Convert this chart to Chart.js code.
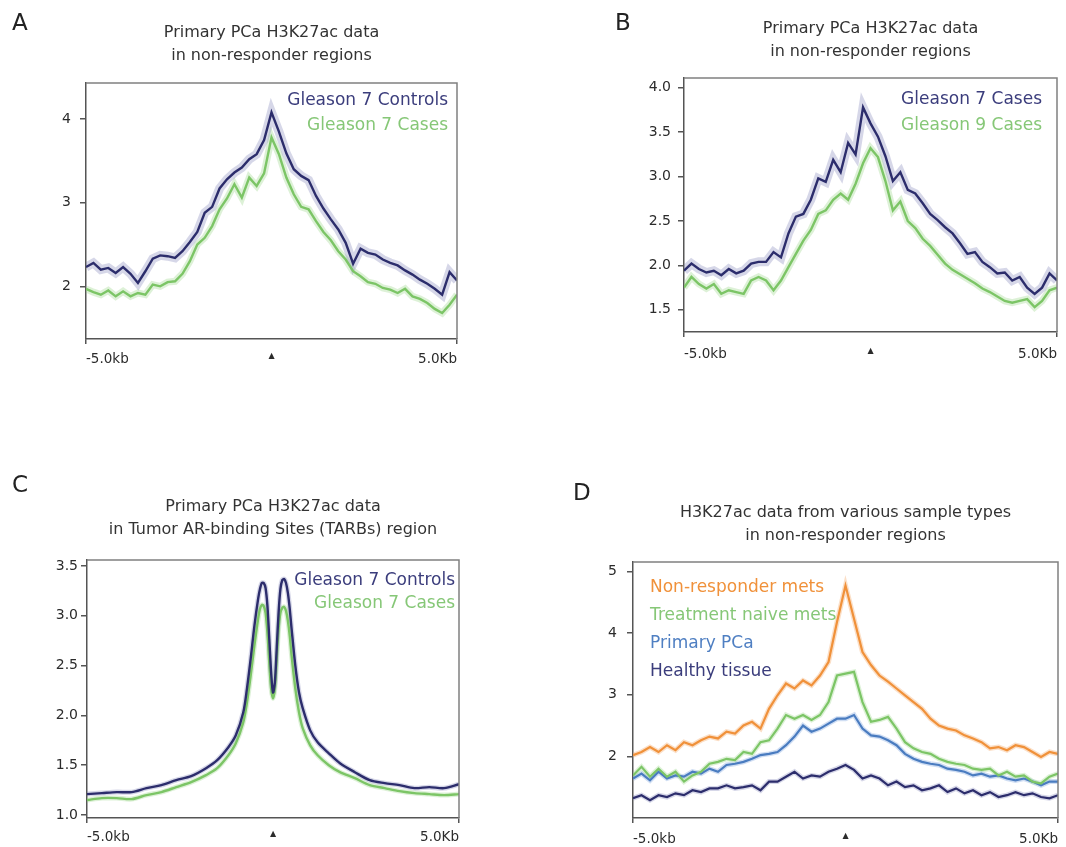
<!DOCTYPE html>
<html>
<head>
<meta charset="utf-8">
<title>Profils H3K27ac</title>
<script src="https://cdn.jsdelivr.net/npm/chart.js@4.4.0/dist/chart.umd.min.js"></script>
<style>
    html, body { margin: 0; padding: 0; background: #fff; }
    #figure { position: relative; width: 1066px; height: 847px; }
    .panel { position: absolute; }
</style>
</head>
<body>
<div id="figure">
    <div class="panel" style="left:0;top:0"><canvas id="chart-a" width="533" height="420"></canvas></div>
    <div class="panel" style="left:533px;top:0"><canvas id="chart-b" width="533" height="420"></canvas></div>
    <div class="panel" style="left:0;top:440px"><canvas id="chart-c" width="533" height="407"></canvas></div>
    <div class="panel" style="left:533px;top:440px"><canvas id="chart-d" width="533" height="407"></canvas></div>
</div>
<script>
// Profils H3K27ac autour des régions (fenêtre -5 kb / +5 kb)

// Positions des bins (kb) pour les panneaux A, B et D
const binsKb = [-5.0, -4.8, -4.6, -4.4, -4.2, -4.0, -3.8, -3.6, -3.4, -3.2,
    -3.0, -2.8, -2.6, -2.4, -2.2, -2.0, -1.8, -1.6, -1.4, -1.2,
    -1.0, -0.8, -0.6, -0.4, -0.2, 0.0, 0.2, 0.4, 0.6, 0.8,
    1.0, 1.2, 1.4, 1.6, 1.8, 2.0, 2.2, 2.4, 2.6, 2.8,
    3.0, 3.2, 3.4, 3.6, 3.8, 4.0, 4.2, 4.4, 4.6, 4.8, 5.0];

// Positions des bins (kb) pour le panneau C, plus fines autour du centre
const binsKbC = [-5.0, -4.6, -4.2, -3.8, -3.4, -3.0, -2.6, -2.2, -1.8, -1.5,
    -1.2, -1.0, -0.8, -0.7, -0.6, -0.5, -0.4, -0.35, -0.3, -0.25,
    -0.2, -0.15, -0.1, -0.05, 0.0, 0.05, 0.1, 0.15, 0.2, 0.25,
    0.3, 0.35, 0.4, 0.45, 0.5, 0.6, 0.7, 0.8, 1.0, 1.2,
    1.5, 1.8, 2.2, 2.6, 3.0, 3.4, 3.8, 4.2, 4.6, 5.0];

// Graduations
const xTickValues = [-5, 0, 5];
const xTickLabels = ['-5.0kb', '\u25B2', '5.0Kb'];
const yTicksA = [2, 3, 4];
const yTicksB = [1.5, 2.0, 2.5, 3.0, 3.5, 4.0];
const yTicksC = [1.0, 1.5, 2.0, 2.5, 3.0, 3.5];
const yTicksD = [2, 3, 4, 5];

// Titres
const titleA = ['Primary PCa H3K27ac data', 'in non-responder regions'];
const titleB = ['Primary PCa H3K27ac data', 'in non-responder regions'];
const titleC = ['Primary PCa H3K27ac data', 'in Tumor AR-binding Sites (TARBs) region'];
const titleD = ['H3K27ac data from various sample types', 'in non-responder regions'];

// Panneau A
const gleason7ControlsA = [2.23, 2.28, 2.20, 2.22, 2.16, 2.23, 2.15, 2.04, 2.18, 2.33,
    2.37, 2.36, 2.34, 2.42, 2.53, 2.65, 2.88, 2.95, 3.17, 3.28,
    3.36, 3.42, 3.52, 3.58, 3.75, 4.08, 3.85, 3.59, 3.40, 3.32,
    3.27, 3.08, 2.93, 2.80, 2.68, 2.52, 2.27, 2.45, 2.40, 2.38,
    2.32, 2.28, 2.25, 2.19, 2.14, 2.08, 2.03, 1.97, 1.90, 2.17, 2.07];
const gleason7CasesA = [1.97, 1.93, 1.90, 1.95, 1.88, 1.94, 1.88, 1.92, 1.90, 2.02,
    2.00, 2.05, 2.06, 2.15, 2.30, 2.50, 2.58, 2.72, 2.92, 3.05,
    3.22, 3.06, 3.30, 3.20, 3.35, 3.78, 3.58, 3.30, 3.10, 2.95,
    2.92, 2.78, 2.65, 2.55, 2.42, 2.32, 2.18, 2.12, 2.05, 2.03,
    1.98, 1.96, 1.92, 1.97, 1.88, 1.85, 1.80, 1.73, 1.68, 1.78, 1.90];

// Panneau B
const gleason7CasesB = [1.94, 2.02, 1.96, 1.92, 1.94, 1.89, 1.96, 1.91, 1.94, 2.02,
    2.04, 2.04, 2.15, 2.09, 2.36, 2.55, 2.58, 2.74, 2.98, 2.94,
    3.19, 3.05, 3.38, 3.25, 3.78, 3.60, 3.45, 3.23, 2.95, 3.05,
    2.85, 2.81, 2.70, 2.58, 2.51, 2.43, 2.36, 2.25, 2.13, 2.15,
    2.04, 1.98, 1.91, 1.92, 1.83, 1.87, 1.75, 1.68, 1.75, 1.91, 1.83];
const gleason9CasesB = [1.75, 1.87, 1.79, 1.74, 1.79, 1.68, 1.72, 1.70, 1.68, 1.83,
    1.87, 1.83, 1.72, 1.83, 1.98, 2.13, 2.28, 2.40, 2.58, 2.62,
    2.74, 2.81, 2.74, 2.92, 3.15, 3.32, 3.22, 2.95, 2.62, 2.72,
    2.50, 2.42, 2.30, 2.22, 2.12, 2.02, 1.95, 1.90, 1.85, 1.80,
    1.74, 1.70, 1.65, 1.60, 1.58, 1.60, 1.62, 1.53, 1.60, 1.72, 1.75];

// Panneau C
const gleason7ControlsC = [1.21, 1.22, 1.23, 1.23, 1.27, 1.30, 1.35, 1.39, 1.47, 1.55,
    1.68, 1.80, 2.03, 2.27, 2.57, 2.90, 3.17, 3.27, 3.33, 3.33,
    3.28, 3.10, 2.77, 2.43, 2.23, 2.33, 2.67, 3.03, 3.27, 3.36,
    3.37, 3.33, 3.23, 3.07, 2.87, 2.50, 2.23, 2.07, 1.85, 1.73,
    1.62, 1.52, 1.43, 1.35, 1.32, 1.30, 1.27, 1.28, 1.27, 1.31];
const gleason7CasesC = [1.15, 1.17, 1.17, 1.16, 1.20, 1.23, 1.28, 1.33, 1.40, 1.47,
    1.60, 1.72, 1.93, 2.13, 2.40, 2.70, 2.97, 3.07, 3.11, 3.10,
    3.03, 2.83, 2.53, 2.27, 2.17, 2.27, 2.57, 2.87, 3.03, 3.08,
    3.09, 3.05, 2.95, 2.80, 2.60, 2.27, 2.03, 1.87, 1.70, 1.60,
    1.50, 1.43, 1.37, 1.30, 1.27, 1.24, 1.22, 1.21, 1.20, 1.21];

// Panneau D
const nonResponderMetsD = [2.02, 2.07, 2.15, 2.07, 2.18, 2.10, 2.23, 2.18, 2.26, 2.32,
    2.29, 2.40, 2.37, 2.50, 2.56, 2.45, 2.77, 2.99, 3.18, 3.10,
    3.23, 3.15, 3.31, 3.53, 4.18, 4.77, 4.23, 3.69, 3.48, 3.31,
    3.21, 3.10, 2.99, 2.88, 2.77, 2.61, 2.50, 2.45, 2.42, 2.34,
    2.29, 2.23, 2.13, 2.15, 2.10, 2.18, 2.15, 2.07, 1.99, 2.07, 2.04];
const treatmentNaiveMetsD = [1.69, 1.83, 1.67, 1.80, 1.67, 1.75, 1.59, 1.69, 1.75, 1.88,
    1.91, 1.96, 1.94, 2.07, 2.04, 2.23, 2.26, 2.45, 2.67, 2.61,
    2.67, 2.59, 2.67, 2.88, 3.31, 3.34, 3.37, 2.88, 2.56, 2.59,
    2.64, 2.45, 2.23, 2.13, 2.07, 2.04, 1.96, 1.91, 1.88, 1.86,
    1.80, 1.78, 1.80, 1.69, 1.75, 1.67, 1.69, 1.59, 1.56, 1.67, 1.72];
const primaryPCaD = [1.64, 1.72, 1.61, 1.75, 1.64, 1.69, 1.67, 1.75, 1.72, 1.80,
    1.75, 1.86, 1.88, 1.91, 1.96, 2.02, 2.04, 2.07, 2.18, 2.32,
    2.50, 2.40, 2.45, 2.53, 2.61, 2.61, 2.67, 2.45, 2.34, 2.32,
    2.26, 2.18, 2.04, 1.96, 1.91, 1.88, 1.86, 1.80, 1.78, 1.75,
    1.69, 1.72, 1.67, 1.69, 1.64, 1.61, 1.64, 1.59, 1.53, 1.59, 1.59];
const healthyTissueD = [1.32, 1.37, 1.29, 1.37, 1.34, 1.40, 1.37, 1.45, 1.42, 1.48,
    1.48, 1.53, 1.48, 1.50, 1.53, 1.45, 1.59, 1.59, 1.67, 1.75,
    1.64, 1.69, 1.67, 1.75, 1.80, 1.86, 1.78, 1.64, 1.69, 1.64,
    1.53, 1.59, 1.50, 1.53, 1.45, 1.48, 1.53, 1.42, 1.48, 1.40,
    1.45, 1.37, 1.42, 1.34, 1.37, 1.42, 1.37, 1.40, 1.34, 1.32, 1.37];

// Couleurs
const COLORS = {
    navy: '#2c2d6c',
    navyText: '#3b3d7c',
    navyBand: 'rgba(120, 122, 180, 0.30)',
    green: '#7cc566',
    greenText: '#86c777',
    greenBand: 'rgba(150, 210, 130, 0.32)',
    orange: '#f0913a',
    orangeBand: 'rgba(245, 175, 115, 0.40)',
    blue: '#4a7cc0',
    blueText: '#4f7fc2',
    blueBand: 'rgba(120, 160, 220, 0.35)'
};

Chart.defaults.font.family = '"DejaVu Sans", "Liberation Sans", sans-serif';
Chart.defaults.color = '#2b2b2b';

/**
 * Dessine le cadre haut/droit, la lettre du panneau et la légende en texte coloré
 */
const panelDecorPlugin = {
    id: 'panelDecor',
    afterDraw(chart, args, opts) {
        const { ctx, chartArea } = chart;
        ctx.save();

        // Cadre haut et droit
        ctx.strokeStyle = '#808080';
        ctx.lineWidth = 1.5;
        ctx.beginPath();
        ctx.moveTo(chartArea.left, chartArea.top);
        ctx.lineTo(chartArea.right, chartArea.top);
        ctx.lineTo(chartArea.right, chartArea.bottom);
        ctx.stroke();

        // Lettre du panneau
        ctx.fillStyle = '#222';
        ctx.font = '23px "DejaVu Sans"';
        ctx.textAlign = 'left';
        ctx.textBaseline = 'alphabetic';
        ctx.fillText(opts.letter, opts.letterX, opts.letterY);

        // Légende
        ctx.font = '17px "DejaVu Sans"';
        ctx.textBaseline = 'middle';
        const items = chart.data.datasets.filter(d => d.showInLegend);
        items.forEach((d, i) => {
            const y = chartArea.top + opts.legendTop + i * opts.legendStep;
            ctx.fillStyle = d.legendColor;
            if (opts.legendAlign === 'right') {
                ctx.textAlign = 'right';
                ctx.fillText(d.label, chartArea.right - opts.legendInset, y);
            } else {
                ctx.textAlign = 'left';
                ctx.fillText(d.label, chartArea.left + opts.legendInset, y);
            }
        });
        ctx.restore();
    }
};

/**
 * Crée un graphique de profil
 */
function createProfileChart(canvasId, cfg) {
    const datasets = [];
    cfg.series.forEach(s => {
        datasets.push({
            label: s.label,
            data: cfg.bins.map((x, i) => ({ x: x, y: s.values[i] })),
            borderColor: s.color,
            borderWidth: cfg.lineWidth,
            pointRadius: 0,
            tension: cfg.tension,
            order: 0,
            showInLegend: true,
            legendColor: s.textColor
        });
    });
    // Bandes d'erreur (halo clair sous chaque courbe)
    cfg.series.forEach(s => {
        datasets.push({
            label: s.label + ' SEM',
            data: cfg.bins.map((x, i) => ({ x: x, y: s.values[i] })),
            borderColor: s.band,
            borderWidth: s.bandWidth,
            pointRadius: 0,
            tension: cfg.tension,
            order: 1
        });
    });

    const ctx = document.getElementById(canvasId).getContext('2d');
    return new Chart(ctx, {
        type: 'line',
        data: { datasets: datasets },
        options: {
            responsive: false,
            animation: false,
            layout: { padding: { left: 0, right: cfg.padRight, top: 0, bottom: 0 } },
            plugins: {
                legend: { display: false },
                tooltip: { enabled: false },
                title: {
                    display: true,
                    text: cfg.title,
                    fullSize: false,
                    color: '#333',
                    font: { size: 16, weight: 'normal', lineHeight: 1.44 },
                    padding: { top: cfg.titleTop, bottom: cfg.titleBottom }
                },
                panelDecor: cfg.decor
            },
            scales: {
                x: {
                    type: 'linear',
                    min: -5,
                    max: 5,
                    afterBuildTicks: axis => { axis.ticks = xTickValues.map(v => ({ value: v })); },
                    afterFit: axis => { axis.height = cfg.xHeight; },
                    ticks: {
                        autoSkip: false,
                        maxRotation: 0,
                        align: 'inner',
                        padding: cfg.xPad,
                        font: c => (c.tick && c.tick.value === 0) ? { size: 8 } : { size: 13.5 },
                        callback: v => xTickLabels[xTickValues.indexOf(v)]
                    },
                    grid: {
                        drawOnChartArea: false,
                        tickLength: 5,
                        lineWidth: 1.5,
                        tickColor: c => (c.tick && c.tick.value === 0) ? 'rgba(0,0,0,0)' : '#555'
                    },
                    border: { color: '#555', width: 1.5 }
                },
                y: {
                    min: cfg.yMin,
                    max: cfg.yMax,
                    afterBuildTicks: axis => { axis.ticks = cfg.yTicks.map(v => ({ value: v })); },
                    afterFit: axis => { axis.width = cfg.yWidth; },
                    ticks: {
                        padding: cfg.yPad,
                        font: { size: 14 },
                        callback: v => v.toFixed(cfg.yDecimals)
                    },
                    grid: {
                        drawOnChartArea: false,
                        tickLength: 6,
                        lineWidth: 1.5,
                        color: '#555'
                    },
                    border: { color: '#555', width: 1.5 }
                }
            }
        },
        plugins: [panelDecorPlugin]
    });
}

// Panneau A
createProfileChart('chart-a', {
    bins: binsKb, title: titleA, tension: 0, lineWidth: 2.4,
    yMin: 1.37, yMax: 4.43, yTicks: yTicksA, yDecimals: 0,
    yWidth: 86, xHeight: 81, padRight: 76, titleTop: 21.5, titleBottom: 15.5,
    yPad: 9, xPad: 7,
    series: [
        { label: 'Gleason 7 Controls', values: gleason7ControlsA, color: COLORS.navy, textColor: COLORS.navyText, band: COLORS.navyBand, bandWidth: 9 },
        { label: 'Gleason 7 Cases', values: gleason7CasesA, color: COLORS.green, textColor: COLORS.greenText, band: COLORS.greenBand, bandWidth: 7 }
    ],
    decor: { letter: 'A', letterX: 12, letterY: 30, legendAlign: 'right', legendInset: 9, legendTop: 17, legendStep: 25 }
});

// Panneau B
createProfileChart('chart-b', {
    bins: binsKb, title: titleB, tension: 0, lineWidth: 2.4,
    yMin: 1.25, yMax: 4.11, yTicks: yTicksB, yDecimals: 1,
    yWidth: 151, xHeight: 88, padRight: 9, titleTop: 17, titleBottom: 15,
    yPad: 7, xPad: 9,
    series: [
        { label: 'Gleason 7 Cases', values: gleason7CasesB, color: COLORS.navy, textColor: COLORS.navyText, band: COLORS.navyBand, bandWidth: 9 },
        { label: 'Gleason 9 Cases', values: gleason9CasesB, color: COLORS.green, textColor: COLORS.greenText, band: COLORS.greenBand, bandWidth: 7 }
    ],
    decor: { letter: 'B', letterX: 82, letterY: 30, legendAlign: 'right', legendInset: 15, legendTop: 21, legendStep: 26 }
});

// Panneau C
createProfileChart('chart-c', {
    bins: binsKbC, title: titleC, tension: 0.3, lineWidth: 2.4,
    yMin: 0.97, yMax: 3.56, yTicks: yTicksC, yDecimals: 1,
    yWidth: 87, xHeight: 29, padRight: 74, titleTop: 55.5, titleBottom: 18.5,
    yPad: 3, xPad: 6,
    series: [
        { label: 'Gleason 7 Controls', values: gleason7ControlsC, color: COLORS.navy, textColor: COLORS.navyText, band: COLORS.navyBand, bandWidth: 5 },
        { label: 'Gleason 7 Cases', values: gleason7CasesC, color: COLORS.green, textColor: COLORS.greenText, band: COLORS.greenBand, bandWidth: 5 }
    ],
    decor: { letter: 'C', letterX: 12, letterY: 52, legendAlign: 'right', legendInset: 4, legendTop: 20, legendStep: 23 }
});

// Panneau D
createProfileChart('chart-d', {
    bins: binsKb, title: titleD, tension: 0, lineWidth: 2.2,
    yMin: 1.0, yMax: 5.15, yTicks: yTicksD, yDecimals: 0,
    yWidth: 100, xHeight: 29, padRight: 3, titleTop: 61.5, titleBottom: 14.5,
    yPad: 10, xPad: 8,
    series: [
        { label: 'Non-responder mets', values: nonResponderMetsD, color: COLORS.orange, textColor: COLORS.orange, band: COLORS.orangeBand, bandWidth: 5 },
        { label: 'Treatment naive mets', values: treatmentNaiveMetsD, color: COLORS.green, textColor: COLORS.greenText, band: COLORS.greenBand, bandWidth: 5 },
        { label: 'Primary PCa', values: primaryPCaD, color: COLORS.blue, textColor: COLORS.blueText, band: COLORS.blueBand, bandWidth: 5 },
        { label: 'Healthy tissue', values: healthyTissueD, color: COLORS.navy, textColor: COLORS.navyText, band: COLORS.navyBand, bandWidth: 5 }
    ],
    decor: { letter: 'D', letterX: 40, letterY: 60, legendAlign: 'left', legendInset: 17, legendTop: 25, legendStep: 28 }
});
</script>
</body>
</html>
